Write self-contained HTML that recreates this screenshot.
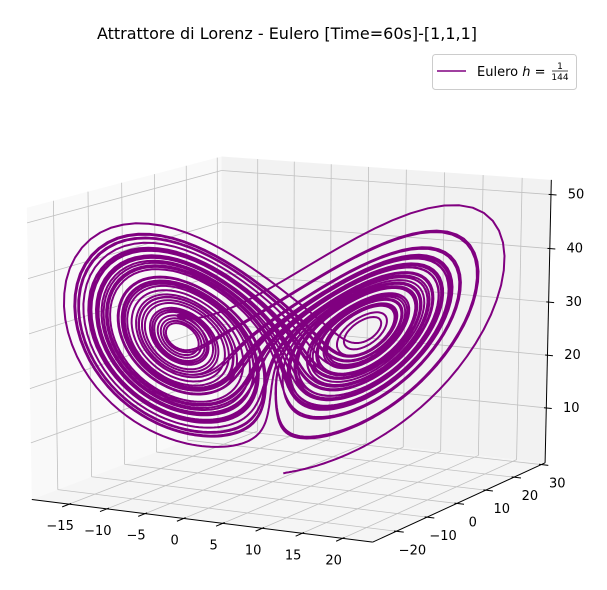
<!DOCTYPE html>
<html><head><meta charset="utf-8"><style>
html,body{margin:0;padding:0;background:#fff;}
svg{display:block;font-family:"DejaVu Sans","Liberation Sans",sans-serif;}
</style></head><body>
<svg id="chart" width="607" height="590" viewBox="0 0 607 590" xmlns="http://www.w3.org/2000/svg">
<rect width="607" height="590" fill="#fff"/>
<text x="287" y="39" text-anchor="middle" font-size="16" fill="#000">Attrattore di Lorenz - Eulero [Time=60s]-[1,1,1]</text>
<g id="panes"></g>
<g id="grid"></g>
<g id="axes"></g>
<g id="series"></g>
<g>
<rect x="432.5" y="54.5" width="144" height="35" rx="3" fill="#fff" fill-opacity="0.8" stroke="#cccccc"/>
<line x1="437" y1="71" x2="466" y2="71" stroke="#800080" stroke-width="1.5"/>
<text x="477" y="76" font-size="13" fill="#000">Eulero <tspan font-style="italic">h</tspan> = </text>
<text x="560" y="69" font-size="9" text-anchor="middle" fill="#000">1</text>
<line x1="552" y1="71" x2="568" y2="71" stroke="#000" stroke-width="0.7"/>
<text x="560" y="80" font-size="9" text-anchor="middle" fill="#000">144</text>
</g>
</svg>
<script>
// ---- data / parameters ----
const initialState = [1, 1, 1];
const lorenzParams = [10, 28, 8/3];   // sigma, rho, beta
const stepSize = [1/144];
const totalTime = [60];
const xTicks = [-15, -10, -5, 0, 5, 10, 15, 20];
const yTicks = [-20, -10, 0, 10, 20, 30];
const zTicks = [10, 20, 30, 40, 50];
const xLim = [-20, 23.7];
const yLim = [-27.5, 31.4];
const zLim = [-0.5, 52.7];

const NS = "http://www.w3.org/2000/svg";
// ---- projection calibration (DLT fit to box geometry) ----
const cal = [
 [[xLim[0],yLim[0],zLim[0]],[32,493]],
 [[xLim[1],yLim[0],zLim[0]],[373,547]],
 [[xLim[1],yLim[1],zLim[0]],[546,457]],
 [[xLim[1],yLim[1],zLim[1]],[551,183]],
 [[xLim[0],yLim[1],zLim[1]],[221,153]],
 [[xLim[0],yLim[0],zLim[1]],[27,207]],
 [[xLim[0],yLim[1],zLim[0]],[222,441]],
 [[-15,yLim[0],zLim[0]],[70,500]],
 [[0,yLim[0],zLim[0]],[183,517]],
 [[20,yLim[0],zLim[0]],[343,542]],
 [[xLim[1],yLim[1],10],[545,403]],
 [[xLim[1],yLim[1],50],[552,197]],
 [[xLim[1],-20,zLim[0]],[395,537]],
 [[xLim[1],30,zLim[0]],[542,458]]
];
function nrm(p){return [(p[0]-xLim[0])/(xLim[1]-xLim[0]),(p[1]-yLim[0])/(yLim[1]-yLim[0]),(p[2]-zLim[0])/(zLim[1]-zLim[0])];}
const S=600;
const rows=[],rhs=[];
cal.forEach(c=>{const [X,Y,Z]=nrm(c[0]);const u=c[1][0]/S,v=c[1][1]/S;
 rows.push([X,Y,Z,1,0,0,0,0,-u*X,-u*Y,-u*Z]);rhs.push(u);
 rows.push([0,0,0,0,X,Y,Z,1,-v*X,-v*Y,-v*Z]);rhs.push(v);});
const n=11;const M=[];
for(let i=0;i<n;i++){M.push(new Array(n+1).fill(0));
 for(let j=0;j<n;j++){let s=0;for(let k=0;k<rows.length;k++)s+=rows[k][i]*rows[k][j];M[i][j]=s;}
 let s=0;for(let k=0;k<rows.length;k++)s+=rows[k][i]*rhs[k];M[i][n]=s;}
for(let i=0;i<n;i++){let piv=i;for(let r=i+1;r<n;r++)if(Math.abs(M[r][i])>Math.abs(M[piv][i]))piv=r;
 [M[i],M[piv]]=[M[piv],M[i]];
 for(let r=0;r<n;r++){if(r===i)continue;const f=M[r][i]/M[i][i];for(let c=i;c<=n;c++)M[r][c]-=f*M[i][c];}}
const P=M.map((r,i)=>r[n]/r[i]);
function proj(x,y,z){const [X,Y,Z]=nrm([x,y,z]);const w=P[8]*X+P[9]*Y+P[10]*Z+1;
 return [S*(P[0]*X+P[1]*Y+P[2]*Z+P[3])/w,S*(P[4]*X+P[5]*Y+P[6]*Z+P[7])/w];}

function poly(g,pts,fill,name){const e=document.createElementNS(NS,"polygon");
 e.setAttribute("points",pts.map(p=>proj(...p).map(v=>v.toFixed(2)).join(",")).join(" "));
 e.setAttribute("fill",fill);
 
 
 g.appendChild(e);}
function line(g,a,b,stroke,w,name){const e=document.createElementNS(NS,"line");const p=proj(...a),q=proj(...b);
 e.setAttribute("x1",p[0]);e.setAttribute("y1",p[1]);e.setAttribute("x2",q[0]);e.setAttribute("y2",q[1]);
 e.setAttribute("stroke",stroke);e.setAttribute("stroke-width",w);
 
 
 g.appendChild(e);}
function label(g,p,dx,dy,txt,name){const q=proj(...p);const e=document.createElementNS(NS,"text");
 e.setAttribute("x",q[0]+dx);e.setAttribute("y",q[1]+dy);e.setAttribute("text-anchor","middle");
 e.setAttribute("font-size","13");e.textContent=txt.replace("-","\u2212");
 
 
 g.appendChild(e);}

const [x0,x1]=xLim,[y0,y1]=yLim,[z0,z1]=zLim;
const panes=document.getElementById("panes");
poly(panes,[[x0,y0,z0],[x0,y1,z0],[x0,y1,z1],[x0,y0,z1]],"#f9f9f9","pane-x");
poly(panes,[[x0,y1,z0],[x1,y1,z0],[x1,y1,z1],[x0,y1,z1]],"#f2f2f2","pane-y");
poly(panes,[[x0,y0,z0],[x1,y0,z0],[x1,y1,z0],[x0,y1,z0]],"#f5f5f5","pane-floor");

const grid=document.getElementById("grid");const gc="#c0c0c0",gw=0.8;
xTicks.forEach(x=>{line(grid,[x,y0,z0],[x,y1,z0],gc,gw,"grid-x-floor");line(grid,[x,y1,z0],[x,y1,z1],gc,gw,"grid-x-back");});
yTicks.forEach(y=>{line(grid,[x0,y,z0],[x1,y,z0],gc,gw,"grid-y-floor");line(grid,[x0,y,z0],[x0,y,z1],gc,gw,"grid-y-side");});
zTicks.forEach(z=>{line(grid,[x0,y0,z],[x0,y1,z],gc,gw,"grid-z-side");line(grid,[x0,y1,z],[x1,y1,z],gc,gw,"grid-z-back");});

const ax=document.getElementById("axes");
line(ax,[x0,y0,z0],[x1,y0,z0],"#000",1,"x-axis-line");
line(ax,[x1,y0,z0],[x1,y1,z0],"#000",1,"y-axis-line");
line(ax,[x1,y1,z0],[x1,y1,z1],"#000",1,"z-axis-line");
xTicks.forEach(x=>{line(ax,[x,y0+0.6,z0],[x,y0-2,z0],"#000",1,"x-tick");label(ax,[x,y0,z0],-9,26,String(x),"x-tick-label");});
yTicks.forEach(y=>{line(ax,[x1-0.3,y,z0],[x1+0.9,y,z0],"#000",1,"y-tick");label(ax,[x1,y,z0],16,23,String(y),"y-tick-label");});
zTicks.forEach(z=>{line(ax,[x1-0.3,y1,z],[x1+0.7,y1,z],"#000",1,"z-tick");label(ax,[x1,y1,z],25,4,String(z),"z-tick-label");});

// ---- Euler integration of the Lorenz system ----
const [sig,rho,beta]=lorenzParams;const h=stepSize[0];
const N=Math.round(totalTime[0]/h);
let [x,y,z]=initialState;const pts=[proj(x,y,z)];
for(let i=0;i<N;i++){const dx=sig*(y-x),dy=x*(rho-z)-y,dz=x*y-beta*z;
 x=x+h*dx;y=y+h*dy;z=z+h*dz;pts.push(proj(x,y,z));}
const path=document.createElementNS(NS,"polyline");
path.setAttribute("points",pts.map(p=>p[0].toFixed(1)+","+p[1].toFixed(1)).join(" "));
path.setAttribute("fill","none");path.setAttribute("stroke","#800080");path.setAttribute("stroke-width","2");
path.setAttribute("stroke-linejoin","round");


document.getElementById("series").appendChild(path);
</script>
</body></html>
